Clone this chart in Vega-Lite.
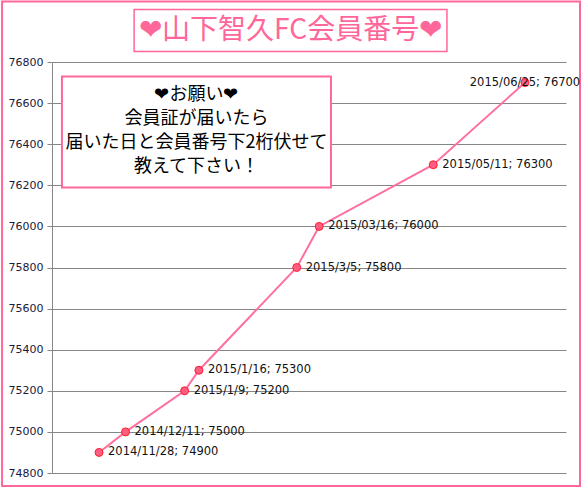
{
  "$schema": "https://vega.github.io/schema/vega-lite/v6.json",
  "autosize": "none",
  "width": 514,
  "height": 411,
  "padding": {"left": 52, "top": 62, "right": 17, "bottom": 16},
  "background": "white",
  "datasets": {
    "members": [
      {"date": "2014-11-28", "shown": "2014/11/28", "number": 74900},
      {"date": "2014-12-11", "shown": "2014/12/11", "number": 75000},
      {"date": "2015-01-09", "shown": "2015/1/9", "number": 75200},
      {"date": "2015-01-16", "shown": "2015/1/16", "number": 75300},
      {"date": "2015-03-05", "shown": "2015/3/5", "number": 75800},
      {"date": "2015-03-16", "shown": "2015/03/16", "number": 76000},
      {"date": "2015-05-11", "shown": "2015/05/11", "number": 76300},
      {"date": "2015-06-25", "shown": "2015/06/25", "number": 76700}
    ]
  },
  "layer": [
    {
      "data": {"name": "members"},
      "mark": {"type": "line", "color": "#ff6f9f", "strokeWidth": 2},
      "encoding": {
        "x": {
          "field": "date",
          "type": "temporal",
          "axis": null,
          "scale": {
            "type": "utc",
            "domain": [
              {"year": 2014, "month": 11, "date": 4, "hours": 22, "utc": true},
              {"year": 2015, "month": 7, "date": 15, "hours": 3, "utc": true}
            ]
          }
        },
        "y": {
          "field": "number",
          "type": "quantitative",
          "title": null,
          "scale": {"domain": [74800, 76800], "nice": false, "zero": false},
          "axis": {
            "values": [74800, 75000, 75200, 75400, 75600, 75800, 76000, 76200, 76400, 76600, 76800],
            "format": "d",
            "grid": true
          }
        }
      }
    },
    {
      "data": {"values": [{}]},
      "mark": {"type": "rect", "fill": null, "stroke": "#ff6699", "strokeWidth": 2},
      "encoding": {
        "x": {"datum": {"year": 2014, "month": 10, "date": 11, "hours": 10, "utc": true}, "type": "temporal", "axis": null},
        "x2": {"datum": {"year": 2015, "month": 7, "date": 22, "utc": true}},
        "y": {"datum": 77095, "type": "quantitative", "title": null},
        "y2": {"datum": 74737}
      }
    },
    {
      "data": {"name": "members"},
      "mark": {"type": "point", "filled": true, "fill": "#ff5c82", "stroke": "#ff1f2f", "strokeWidth": 1, "size": 64, "opacity": 1},
      "encoding": {
        "x": {"field": "date", "type": "temporal", "axis": null},
        "y": {"field": "number", "type": "quantitative", "title": null}
      }
    },
    {
      "data": {"name": "members"},
      "transform": [
        {"filter": "datum.shown !== '2015/06/25'"},
        {"calculate": "datum.shown + '; ' + datum.number", "as": "label"}
      ],
      "mark": {"type": "text", "align": "left", "baseline": "middle", "dx": 9, "font": "DejaVu Sans", "fontSize": 11.5, "color": "#111111"},
      "encoding": {
        "x": {"field": "date", "type": "temporal", "axis": null},
        "y": {"field": "number", "type": "quantitative", "title": null},
        "text": {"field": "label"}
      }
    },
    {
      "data": {"name": "members"},
      "transform": [
        {"filter": "datum.shown === '2015/06/25'"},
        {"calculate": "datum.shown + '; ' + datum.number", "as": "label"}
      ],
      "mark": {"type": "text", "align": "center", "baseline": "middle", "font": "DejaVu Sans", "fontSize": 11.5, "color": "#111111"},
      "encoding": {
        "x": {"field": "date", "type": "temporal", "axis": null},
        "y": {"field": "number", "type": "quantitative", "title": null},
        "text": {"field": "label"}
      }
    },
    {
      "data": {"values": [{}]},
      "mark": {"type": "rect", "fill": "white", "stroke": "#ff6699", "strokeWidth": 1.5},
      "encoding": {
        "x": {"datum": {"year": 2014, "month": 12, "date": 15, "hours": 5, "utc": true}, "type": "temporal", "axis": null},
        "x2": {"datum": {"year": 2015, "month": 5, "date": 17, "hours": 17, "utc": true}},
        "y": {"datum": 77056, "type": "quantitative", "title": null},
        "y2": {"datum": 76851}
      }
    },
    {
      "data": {"values": [{"title": "❤山下智久FC会員番号❤"}]},
      "mark": {"type": "text", "align": "center", "baseline": "middle", "font": "Noto Sans CJK JP", "fontSize": 28, "color": "#ff6699"},
      "encoding": {
        "x": {"datum": {"year": 2015, "month": 3, "date": 2, "utc": true}, "type": "temporal", "axis": null},
        "y": {"datum": 76953, "type": "quantitative", "title": null},
        "text": {"field": "title"}
      }
    },
    {
      "data": {"values": [{}]},
      "mark": {"type": "rect", "fill": "white", "stroke": "#ff6699", "strokeWidth": 2},
      "encoding": {
        "x": {"datum": {"year": 2014, "month": 11, "date": 9, "hours": 19, "utc": true}, "type": "temporal", "axis": null},
        "x2": {"datum": {"year": 2015, "month": 3, "date": 21, "hours": 19, "utc": true}},
        "y": {"datum": 76729, "type": "quantitative", "title": null},
        "y2": {"datum": 76189}
      }
    },
    {
      "data": {"values": [{"note": ["❤お願い❤", "会員証が届いたら", "届いた日と会員番号下2桁伏せて", "教えて下さい！"]}]},
      "mark": {"type": "text", "align": "center", "baseline": "middle", "font": "Noto Sans CJK JP", "fontSize": 18, "lineHeight": 24, "color": "black"},
      "encoding": {
        "x": {"datum": {"year": 2015, "month": 1, "date": 14, "hours": 19, "utc": true}, "type": "temporal", "axis": null},
        "y": {"datum": 76640, "type": "quantitative", "title": null},
        "text": {"field": "note"}
      }
    }
  ],
  "config": {
    "view": {"stroke": null},
    "axisY": {
      "domainColor": "#868686",
      "tickColor": "#868686",
      "tickSize": 5,
      "gridColor": "#868686",
      "gridOpacity": 1,
      "labelFont": "DejaVu Sans",
      "labelFontSize": 11,
      "labelColor": "#1a1a3a",
      "labelPadding": 4
    }
  }
}
